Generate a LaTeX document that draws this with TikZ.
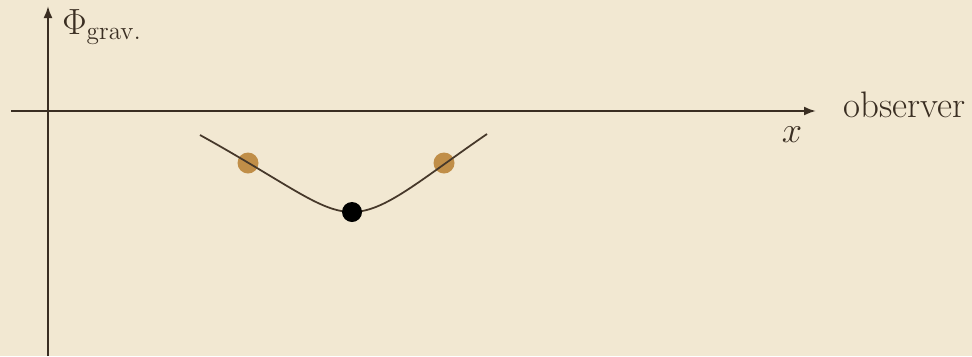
\documentclass[tikz,border=0pt]{standalone}
\usepackage{tikz}
\usetikzlibrary{positioning,arrows.meta}
\usepackage{xcolor}
\definecolor{PaperBeige}{RGB}{242,232,210}
\definecolor{AxisBrown}{RGB}{58,46,34}
\definecolor{CurveBrown}{RGB}{70,56,42}
\definecolor{DotOchre}{RGB}{192,142,72}

\begin{document}
\begin{tikzpicture}[
x=0.02cm,y=-0.02cm,
axis/.style={-{Latex[length=2.4mm,width=1.8mm]},line width=1.2pt,draw=AxisBrown},
curve/.style={line width=1pt,draw=CurveBrown},
dot/.style={
  circle,
  inner sep=0pt,
  minimum size=0.42cm
},
label/.style={font=\fontsize{21}{25}\selectfont,text=AxisBrown,inner sep=0pt}
]
\useasboundingbox[fill=PaperBeige] (0,0) rectangle (972,356);
% axes
\coordinate (ybot) at (48,356);
\coordinate (ytop) at (48,6);
\coordinate (xleft) at (11,111);
\coordinate (xright) at (816,111);
\draw[axis] (ybot)--(ytop);
\draw[axis] (xleft)--(xright);
\node[label,anchor=base west,font=\fontsize{22}{26}\selectfont] (phi) at (62,34) {$\Phi_{\mathrm{grav.}}$};
\node[label,anchor=base west] (obs) at (843,117) {observer};
\node[label] (xlab) at (792,135) {$x$};
% potential well
\node[dot,fill=DotOchre] (left) at (248,163) {};
\node[dot,fill=DotOchre] (right) at (444,163) {};
\coordinate (ca) at (200,135);
\coordinate (cb) at (487,134);
\draw[curve] (ca) .. controls (290,185) and (320,212) .. (352,212)
  .. controls (385,212) and (420,180) .. (cb);
\node[dot,fill=black,minimum size=0.4cm] (bottom) at (352,212) {};
\end{tikzpicture}
\end{document}
